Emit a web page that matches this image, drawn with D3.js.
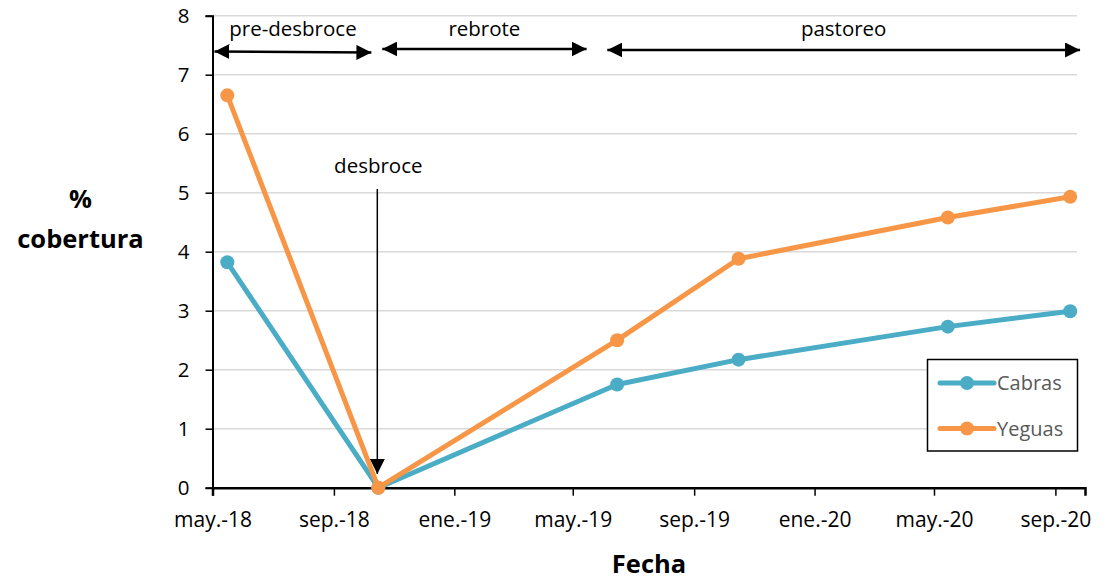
<!DOCTYPE html>
<html>
<head>
<meta charset="utf-8">
<script src="https://cdn.jsdelivr.net/npm/d3@7"></script>
<style>
body { margin: 0; background: #fff; }
text { font-family: "Open Sans", sans-serif; }
</style>
</head>
<body>
<script>
// muestreos
var fechas = ["2018-05-16", "2018-10-16", "2019-06-15", "2019-10-16", "2020-05-15", "2020-09-16"];
var cabras = [3.82, 0, 1.75, 2.17, 2.73, 2.99];
var yeguas = [6.65, 0, 2.5, 3.88, 4.58, 4.93];
var yTicks = [0, 1, 2, 3, 4, 5, 6, 7, 8];
var xTicks = ["2018-05-01", "2018-09-01", "2019-01-01", "2019-05-01", "2019-09-01", "2020-01-01", "2020-05-01", "2020-09-01"];
var meses = ["ene.", "feb.", "mar.", "abr.", "may.", "jun.", "jul.", "ago.", "sep.", "oct.", "nov.", "dic."];
var periodos = ["pre-desbroce", "rebrote", "pastoreo"];
var periodoIni = ["2018-05-03", "2018-10-20", "2019-06-05"];
var periodoFin = ["2018-10-09", "2019-05-15", "2020-09-26"];

var parse = d3.timeParse("%Y-%m-%d");

var svg = d3.select("body").append("svg").attr("width", 1111).attr("height", 584);

var x = d3.scaleTime().domain([parse("2018-05-01"), parse("2020-10-01")]).range([212.5, 1085]);
var y = d3.scaleLinear().domain([0, 8]).range([487.7, 15.7]);

// gridlines
svg.append("g").selectAll("line").data(yTicks.slice(1)).enter().append("line")
  .attr("x1", 212).attr("x2", 1077)
  .attr("y1", function(d) { return y(d); }).attr("y2", function(d) { return y(d); })
  .attr("stroke", "#d9d9d9").attr("stroke-width", 1.5);

// ejes
var yAxis = d3.axisLeft(y).tickValues(yTicks).tickSize(7).tickPadding(16);
var gy = svg.append("g").attr("transform", "translate(212.5,0)").call(yAxis);
gy.select(".domain").attr("stroke", "#000").attr("stroke-width", 2);
gy.selectAll(".tick line").attr("stroke", "#000").attr("stroke-width", 1.5);
gy.selectAll("text").attr("font-size", 20.5).attr("fill", "#000").style("font-family", "Open Sans");

var xAxis = d3.axisBottom(x).tickValues(xTicks.map(parse)).tickSize(8).tickPadding(16)
  .tickFormat(function(d) { return meses[d.getMonth()] + "-" + d3.timeFormat("%y")(d); });
var gx = svg.append("g").attr("transform", "translate(0," + y(0) + ")").call(xAxis);
gx.select(".domain").attr("stroke", "#000").attr("stroke-width", 2.5);
gx.selectAll(".tick line").attr("stroke", "#000").attr("stroke-width", 1.5);
gx.selectAll("text").attr("font-size", 21).attr("fill", "#000").style("font-family", "Open Sans");

// titulos
svg.append("text").attr("x", 649).attr("y", 573).attr("text-anchor", "middle")
  .attr("font-size", 25.5).attr("font-weight", "bold").text("Fecha");
svg.append("text").attr("x", 80.5).attr("y", 208).attr("text-anchor", "middle")
  .attr("font-size", 25.5).attr("font-weight", "bold").text("%");
svg.append("text").attr("x", 80.5).attr("y", 248).attr("text-anchor", "middle")
  .attr("font-size", 25.5).attr("font-weight", "bold").text("cobertura");

// flechas
var defs = svg.append("defs");
defs.append("marker").attr("id", "ah").attr("viewBox", "0 0 10 10").attr("refX", 10).attr("refY", 5)
  .attr("markerWidth", 6).attr("markerHeight", 6).attr("markerUnits", "strokeWidth").attr("orient", "auto-start-reverse")
  .append("path").attr("d", "M0,0 L10,5 L0,10 Z").attr("fill", "#000");
defs.append("marker").attr("id", "ah2").attr("viewBox", "0 0 10 10").attr("refX", 10).attr("refY", 5)
  .attr("markerWidth", 12).attr("markerHeight", 10).attr("markerUnits", "strokeWidth").attr("orient", "auto")
  .append("path").attr("d", "M0,0 L10,5 L0,10 Z").attr("fill", "#000");

var yFlecha = [51.5, 49, 50];
periodos.forEach(function(p, i) {
  var x1 = x(parse(periodoIni[i])), x2 = x(parse(periodoFin[i]));
  svg.append("line").attr("x1", x1).attr("x2", x2).attr("y1", yFlecha[i]).attr("y2", yFlecha[i] + (i == 0 ? 1 : 0))
    .attr("stroke", "#000").attr("stroke-width", 2.5)
    .attr("marker-start", "url(#ah)").attr("marker-end", "url(#ah)");
  svg.append("text").attr("x", (x1 + x2) / 2).attr("y", 36).attr("text-anchor", "middle")
    .attr("font-size", 20.5).attr("fill", "#000").text(p);
});

// desbroce
var xd = x(parse(fechas[1]));
svg.append("line").attr("x1", xd - 1).attr("x2", xd - 1).attr("y1", 189).attr("y2", 474)
  .attr("stroke", "#000").attr("stroke-width", 1.5).attr("marker-end", "url(#ah2)");
svg.append("text").attr("x", xd).attr("y", 173).attr("text-anchor", "middle")
  .attr("font-size", 20.5).attr("fill", "#000").text("desbroce");

// series
var series = [{ nombre: "Cabras", vals: cabras, color: "#4BACC6" }, { nombre: "Yeguas", vals: yeguas, color: "#F79646" }];
var line = d3.line().x(function(d) { return x(d[0]); }).y(function(d) { return y(d[1]); });

series.forEach(function(s) {
  var pts = fechas.map(function(f, i) { return [parse(f), s.vals[i]]; });
  svg.append("path").datum(pts).attr("d", line).attr("fill", "none")
    .attr("stroke", s.color).attr("stroke-width", 5).attr("stroke-linejoin", "round");
  svg.append("g").selectAll("circle").data(pts).enter().append("circle")
    .attr("cx", function(d) { return x(d[0]); }).attr("cy", function(d) { return y(d[1]); })
    .attr("r", 7).attr("fill", s.color);
});

// leyenda
var leg = svg.append("g");
leg.append("rect").attr("x", 927.5).attr("y", 359.5).attr("width", 150).attr("height", 91.5)
  .attr("fill", "#fff").attr("stroke", "#000").attr("stroke-width", 1.5);
series.forEach(function(s, i) {
  var ly = 383 + i * 45.5;
  leg.append("line").attr("x1", 940).attr("x2", 994).attr("y1", ly).attr("y2", ly)
    .attr("stroke", s.color).attr("stroke-width", 5).attr("stroke-linecap", "round");
  leg.append("circle").attr("cx", 967).attr("cy", ly).attr("r", 7).attr("fill", s.color);
  leg.append("text").attr("x", 997).attr("y", ly + 7).attr("font-size", 20).attr("fill", "#595959").text(s.nombre);
});
</script>
</body>
</html>
